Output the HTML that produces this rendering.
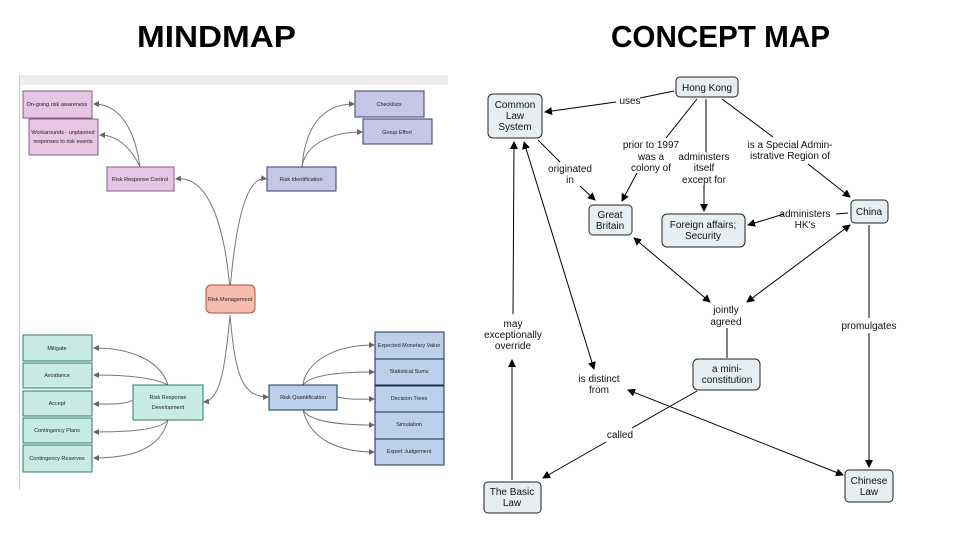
<!DOCTYPE html>
<html><head><meta charset="utf-8"><style>
html,body{margin:0;padding:0;background:#fff;}
svg{display:block;}
text{font-family:"Liberation Sans",sans-serif;}
</style></head><body>
<svg width="960" height="540" viewBox="0 0 960 540" xmlns="http://www.w3.org/2000/svg">
<defs>
<marker id="a" markerWidth="8" markerHeight="8" refX="7" refY="4" orient="auto" markerUnits="userSpaceOnUse"><path d="M0,0 L8,4 L0,8 z" fill="#000"/></marker>
<marker id="as" markerWidth="8" markerHeight="8" refX="1" refY="4" orient="auto" markerUnits="userSpaceOnUse"><path d="M8,0 L0,4 L8,8 z" fill="#000"/></marker>
<marker id="g" markerWidth="6" markerHeight="6" refX="5" refY="3" orient="auto" markerUnits="userSpaceOnUse"><path d="M0,0 L6,3 L0,6 z" fill="#666"/></marker>
</defs>
<text x="137" y="47" font-size="31" font-weight="bold" textLength="159" lengthAdjust="spacingAndGlyphs">MINDMAP</text>
<text x="611" y="47" font-size="31" font-weight="bold" textLength="219" lengthAdjust="spacingAndGlyphs">CONCEPT MAP</text>

<!-- mindmap -->
<rect x="19" y="75" width="429" height="10" fill="#eeeeee"/>
<line x1="19.5" y1="75" x2="19.5" y2="490" stroke="#ccc"/>
<g fill="none" stroke="#777" stroke-width="1">
<path d="M230,290 C225,230 210,175 176,179" marker-end="url(#g)"/>
<path d="M230,290 C235,230 245,175 266,179" marker-end="url(#g)"/>
<path d="M230,315 C225,370 220,400 204,402" marker-end="url(#g)"/>
<path d="M230,315 C235,370 240,397 268,397" marker-end="url(#g)"/>
<path d="M140,167 C135,130 120,104 94,104" marker-end="url(#g)"/>
<path d="M140,167 C130,145 115,135 100,135" marker-end="url(#g)"/>
<path d="M302,167 C305,130 320,104 354,104" marker-end="url(#g)"/>
<path d="M302,167 C305,145 330,132 362,132" marker-end="url(#g)"/>
<path d="M168,385 C160,360 130,348 94,348" marker-end="url(#g)"/>
<path d="M168,385 C155,378 130,375 94,375" marker-end="url(#g)"/>
<path d="M133,400 C125,405 110,404 94,404" marker-end="url(#g)"/>
<path d="M168,420 C160,430 130,432 94,432" marker-end="url(#g)"/>
<path d="M168,420 C160,450 130,458 94,458" marker-end="url(#g)"/>
<path d="M303,385 C305,365 330,345 374,345" marker-end="url(#g)"/>
<path d="M303,385 C310,375 340,372 374,372" marker-end="url(#g)"/>
<path d="M337,397 C350,400 360,399 374,399" marker-end="url(#g)"/>
<path d="M303,410 C310,422 340,425 374,425" marker-end="url(#g)"/>
<path d="M303,410 C310,440 340,452 374,452" marker-end="url(#g)"/>
</g>
<g stroke-width="1" font-size="5.5" text-anchor="middle" fill="#222">
<g fill="#e6c6e2" stroke="#8a5a8a">
<rect x="23" y="91" width="69" height="27"/><rect x="29" y="119" width="69" height="36"/><rect x="107" y="167" width="67" height="24"/>
</g>
<g fill="#c6c6e6" stroke="#3a3a6a">
<rect x="355" y="91" width="69" height="26"/><rect x="363" y="119" width="69" height="25"/><rect x="267" y="167" width="69" height="24"/>
</g>
<rect x="206" y="285" width="49" height="28" rx="5" fill="#f6bcae" stroke="#b05040"/>
<g fill="#c6ece4" stroke="#2a7a6a">
<rect x="23" y="335" width="69" height="26"/><rect x="23" y="363" width="69" height="25"/><rect x="23" y="391" width="69" height="25"/><rect x="23" y="418" width="69" height="25"/><rect x="23" y="445" width="69" height="27"/><rect x="133" y="385" width="70" height="35"/>
</g>
<g fill="#bcd0ec" stroke="#1a3050">
<rect x="269" y="385" width="68" height="25"/>
<rect x="375" y="332" width="69" height="27"/><rect x="375" y="359" width="69" height="26"/><rect x="375" y="386" width="69" height="26"/><rect x="375" y="412" width="69" height="27"/><rect x="375" y="439" width="69" height="26"/>
</g>
<g stroke="none">
<text x="57" y="106">On-going risk awareness</text>
<text x="63" y="134">Workarounds - unplanned</text><text x="63" y="143">responses to risk events</text>
<text x="140" y="181">Risk Response Control</text>
<text x="389" y="106">Checklists</text><text x="397" y="134">Group Effort</text>
<text x="301" y="181">Risk Identification</text>
<text x="230" y="301">Risk Management</text>
<text x="57" y="350">Mitigate</text><text x="57" y="377">Avoidance</text><text x="57" y="405">Accept</text><text x="57" y="432">Contingency Plans</text><text x="57" y="460">Contingency Reserves</text>
<text x="168" y="399">Risk Response</text><text x="168" y="409">Development</text>
<text x="303" y="399">Risk Quantification</text>
<text x="409" y="347">Expected Monetary Value</text><text x="409" y="373">Statistical Sums</text><text x="409" y="400">Decision Trees</text><text x="409" y="426">Simulation</text><text x="409" y="453">Expert Judgement</text>
</g>
</g>

<!-- concept map -->
<g stroke="#000" stroke-width="1" fill="none">
<path d="M674,91 L640,98 M616,102 L545,112" marker-end="url(#a)"/>
<path d="M697,99 L666,138 M637,173 L622,201" marker-end="url(#a)"/>
<path d="M706,99 L706,152 M704,185 L704,211" marker-end="url(#a)"/>
<path d="M722,99 L773,137 M808,164 L850,197" marker-end="url(#a)"/>
<path d="M538,140 L560,162 M580,186 L595,200" marker-end="url(#a)"/>
<path d="M784,214 L748,225" marker-end="url(#a)"/>
<path d="M848,213 L836,214"/>
<path d="M634,238 L710,302" marker-start="url(#as)" marker-end="url(#a)"/>
<path d="M850,225 L747,302" marker-start="url(#as)" marker-end="url(#a)"/>
<path d="M727,328 L727,358"/>
<path d="M869,225 L869,318 M869,333 L869,467" marker-end="url(#a)"/>
<path d="M697,391 L632,428 M606,442 L543,478" marker-end="url(#a)"/>
<path d="M512,480 L512,360" marker-end="url(#a)"/>
<path d="M513,314 L514,142" marker-end="url(#a)"/>
<path d="M524,142 L594,369" marker-start="url(#as)" marker-end="url(#a)"/>
<path d="M628,390 L843,475" marker-start="url(#as)" marker-end="url(#a)"/>
</g>
<g fill="#e6eef2" stroke="#222" stroke-width="1">
<rect x="676" y="77" width="62" height="20" rx="4"/>
<rect x="488" y="94" width="54" height="44" rx="5"/>
<rect x="589" y="205" width="43" height="30" rx="4"/>
<rect x="662" y="214" width="83" height="33" rx="5"/>
<rect x="851" y="200" width="37" height="23" rx="4"/>
<rect x="693" y="359" width="67" height="31" rx="5"/>
<rect x="484" y="482" width="57" height="31" rx="4"/>
<rect x="845" y="470" width="48" height="32" rx="4"/>
</g>
<g font-size="10" text-anchor="middle" fill="#111">
<text x="707" y="91">Hong Kong</text>
<text x="515" y="108">Common</text><text x="515" y="119">Law</text><text x="515" y="130">System</text>
<text x="610" y="218">Great</text><text x="610" y="229">Britain</text>
<text x="703" y="228">Foreign affairs;</text><text x="703" y="239">Security</text>
<text x="869" y="215">China</text>
<text x="727" y="372">a mini-</text><text x="727" y="383">constitution</text>
<text x="512" y="495">The Basic</text><text x="512" y="506">Law</text>
<text x="869" y="484">Chinese</text><text x="869" y="495">Law</text>
<text x="630" y="104">uses</text>
<text x="651" y="148">prior to 1997</text><text x="651" y="160">was a</text><text x="651" y="171">colony of</text>
<text x="704" y="160">administers</text><text x="704" y="171">itself</text><text x="704" y="183">except for</text>
<text x="790" y="148">is a Special Admin-</text><text x="790" y="159">istrative Region of</text>
<text x="570" y="172">originated</text><text x="570" y="183">in</text>
<text x="805" y="217">administers</text><text x="805" y="228">HK's</text>
<text x="726" y="313">jointly</text><text x="726" y="325">agreed</text>
<text x="869" y="329">promulgates</text>
<text x="513" y="327">may</text><text x="513" y="338">exceptionally</text><text x="513" y="349">override</text>
<text x="599" y="382">is distinct</text><text x="599" y="393">from</text>
<text x="620" y="438">called</text>
</g>
</svg>
</body></html>
